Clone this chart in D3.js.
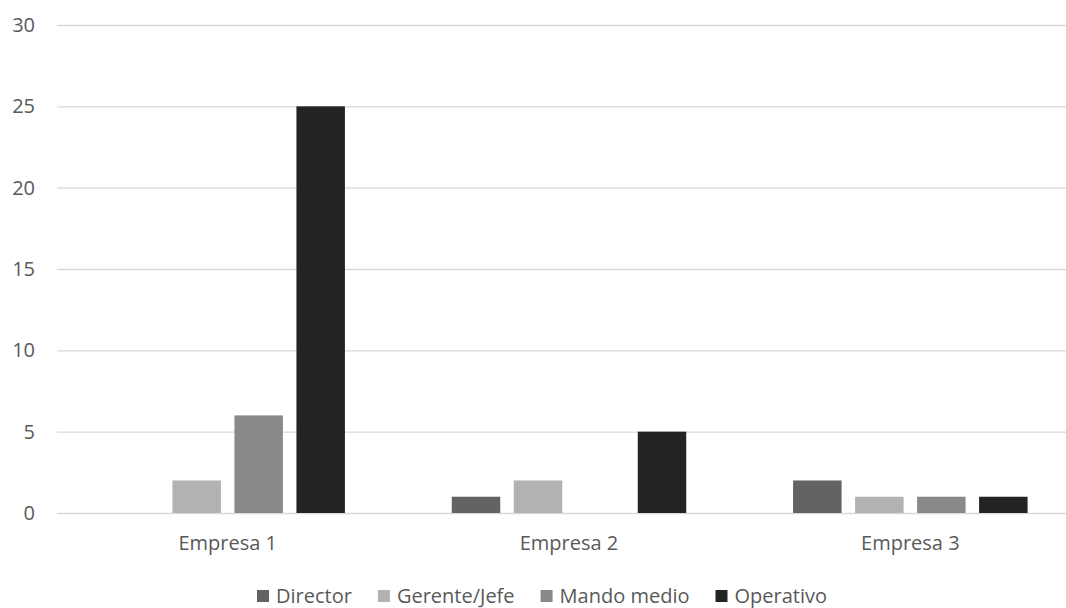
<!DOCTYPE html>
<html>
<head>
<meta charset="utf-8">
<script src="https://cdn.jsdelivr.net/npm/d3@7"></script>
<style>
  html, body { margin: 0; padding: 0; background: #fff; }
  svg text { font-family: "Open Sans", "Noto Sans", sans-serif; fill: #595959; }
</style>
</head>
<body>
<svg id="chart" width="1066" height="608"></svg>
<script>
// Personnel by level in each company
const categories = ["Empresa 1", "Empresa 2", "Empresa 3"];
const seriesNames = ["Director", "Gerente/Jefe", "Mando medio", "Operativo"];
const director    = [0, 1, 2];
const gerenteJefe = [2, 2, 1];
const mandoMedio  = [6, 0, 1];
const operativo   = [25, 5, 1];
const yTicks = [0, 5, 10, 15, 20, 25, 30];
const seriesColors = ["#636363", "#b2b2b2", "#898989", "#232323"];

const seriesValues = [director, gerenteJefe, mandoMedio, operativo];

const svg = d3.select("#chart");
const W = 1066, H = 608;
const plot = { left: 57, right: 1081, top: 25, bottom: 513 };
const fontSize = 20;

const x0 = d3.scaleBand()
  .domain(categories)
  .range([plot.left, plot.right])
  .paddingInner(0.313)
  .paddingOuter(0.1565);

const x1 = d3.scaleBand()
  .domain(seriesNames)
  .range([0, x0.bandwidth()])
  .paddingInner(0.218)
  .paddingOuter(0);

const y = d3.scaleLinear()
  .domain([0, 30])
  .range([plot.bottom, plot.top]);

const color = d3.scaleOrdinal().domain(seriesNames).range(seriesColors);

// Horizontal gridlines with value labels on the left
const yAxis = d3.axisLeft(y)
  .tickValues(yTicks)
  .tickSize(-(W - plot.left))
  .tickPadding(22)
  .tickFormat(d3.format("d"));

const gy = svg.append("g")
  .attr("transform", `translate(${plot.left},0)`)
  .call(yAxis);
gy.select(".domain").remove();
gy.selectAll(".tick line").attr("stroke", "#d9d9d9").attr("stroke-width", 1.3);
gy.selectAll(".tick text")
  .style("font-size", fontSize + "px")
  .attr("fill", "#595959");

// Grouped bars
const groups = svg.append("g")
  .selectAll("g")
  .data(categories)
  .join("g")
  .attr("transform", d => `translate(${x0(d)},0)`);

groups.selectAll("rect")
  .data((c, i) => seriesNames.map((s, k) => ({ series: s, value: seriesValues[k][i] })))
  .join("rect")
  .filter(d => d.value > 0)
  .attr("x", d => x1(d.series))
  .attr("width", x1.bandwidth())
  .attr("y", d => y(d.value))
  .attr("height", d => y(0) - y(d.value))
  .attr("fill", d => color(d.series));

// Category labels
const xAxis = d3.axisBottom(x0).tickSize(0).tickPadding(23);
const gx = svg.append("g")
  .attr("transform", `translate(0,${plot.bottom})`)
  .call(xAxis);
gx.select(".domain").remove();
gx.selectAll(".tick text")
  .style("font-size", fontSize + "px")
  .attr("fill", "#595959");

// Legend, centred below the plot
const legend = svg.append("g");
const sw = 12, gapText = 7, gapItem = 26;
let cursor = 0;
const items = legend.selectAll("g")
  .data(seriesNames)
  .join("g");
items.append("rect")
  .attr("width", sw).attr("height", sw)
  .attr("y", -sw / 2)
  .attr("fill", d => color(d));
items.append("text")
  .attr("x", sw + gapText)
  .attr("dy", "0.35em")
  .style("font-size", fontSize + "px")
  .text(d => d);
items.each(function () {
  const w = this.getBBox().width;
  d3.select(this).attr("transform", `translate(${cursor},0)`);
  cursor += w + gapItem;
});
const legendWidth = cursor - gapItem;
legend.attr("transform", `translate(${542 - legendWidth / 2},${596})`);
</script>
</body>
</html>
